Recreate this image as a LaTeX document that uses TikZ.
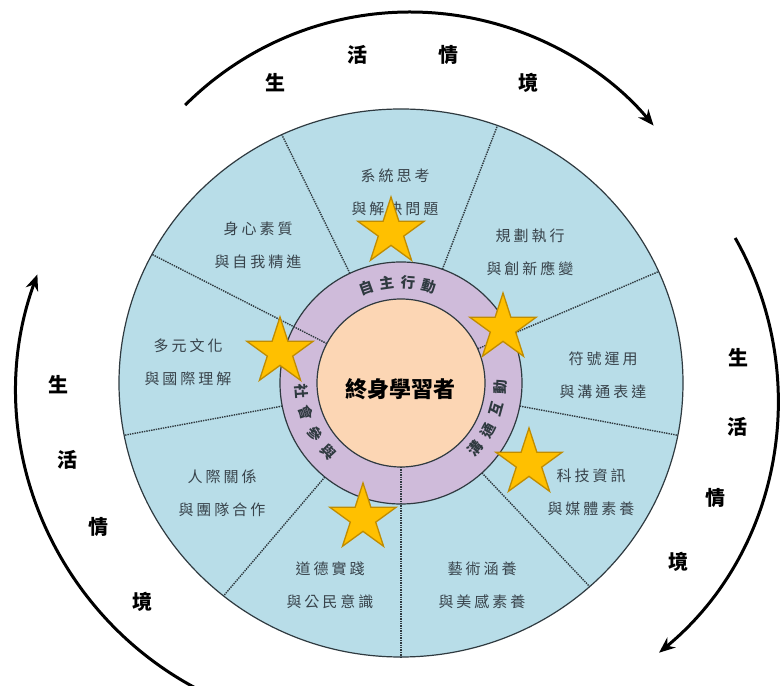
\documentclass[tikz,border=0pt]{standalone}
\usepackage{fontspec}
\setmainfont{Noto Sans CJK TC}
\newfontfamily\seclbl[LetterSpace=20]{Noto Sans CJK TC}
\usepackage{tikz}
\usetikzlibrary{shapes.geometric, arrows.meta, calc}
\definecolor{ccBlue}{HTML}{B8DDE8}
\definecolor{ccPurple}{HTML}{CFBBDA}
\definecolor{ccPeach}{HTML}{FCD6B4}
\definecolor{ccGold}{HTML}{FFC000}
\definecolor{ccGoldDark}{HTML}{C08C00}
\definecolor{ccLine}{HTML}{2F3A40}
\definecolor{ccText}{HTML}{38434B}
\tikzset{
  seclabel/.style={align=center, text=ccText, font=\fontsize{15}{33}\selectfont\seclbl},
  ringchar/.style={text=ccLine, inner sep=0pt, font=\fontsize{14.5}{14.5}\selectfont\bfseries},
  ctxchar/.style={text=black, font=\fontsize{20}{20}\selectfont\bfseries},
  goldstar/.style={star, star points=5, star point ratio=2.618, minimum size=70pt,
                   inner sep=0pt, fill=ccGold, draw=ccGoldDark, line width=1.3pt},
  divider/.style={densely dotted, line width=1.4pt, color=ccLine},
  ctxarrow/.style={-{Stealth[length=16pt, width=13pt]}, line width=3pt},
}

\begin{document}
\begin{tikzpicture}[x=1pt, y=1pt]
  \useasboundingbox[fill=white] (0,0) rectangle (780,686);
  \coordinate (C) at (401,303);
  % rings
  \draw[ccLine, line width=1.2pt, fill=ccBlue] (C) ellipse[x radius=282, y radius=274];
  \draw[ccLine, line width=1.2pt, fill=ccPurple] (C) circle[radius=121];
  \foreach \a in {115,70,-11,-48,-129,191}
    \draw[divider] ([shift={(\a:121)}]C) -- ([shift={(\a:282 and 274)}]C);
  \foreach \a in {152,24,-90}
    \draw[divider] ([shift={(\a:84)}]C) -- ([shift={(\a:282 and 274)}]C);
  \draw[ccLine, line width=1.2pt, fill=ccPeach] (C) circle[radius=84];
  \node[font=\fontsize{22}{22}\selectfont\bfseries] (core) at (400,297) {終身學習者};
  % dimensions
  \foreach \a/\c [count=\i] in {110/自,98/主,86/行,74/動}
    \node[ringchar, rotate=\a-90] (auto\i) at ([shift={(\a:101)}]C) {\c};
  \foreach \a/\c [count=\i] in {-41.5/溝,-28.5/通,-15.5/互,-2.5/動}
    \node[ringchar, rotate=\a+90] (comm\i) at ([shift={(\a:99)}]C) {\c};
  \foreach \a/\c [count=\i] in {184.5/社,197.5/會,210.5/參,223.5/與}
    \node[ringchar, rotate=\a+90] (soc\i) at ([shift={(\a:100)}]C) {\c};
  % items
  \node[seclabel] (sys) at (395,494) {系統思考\\與解決問題};
  \node[seclabel] (plan) at (530,434) {規劃執行\\與創新應變};
  \node[seclabel] (sym) at (603,311) {符號運用\\與溝通表達};
  \node[seclabel] (tech) at (591,194) {科技資訊\\與媒體素養};
  \node[seclabel] (art) at (482,101) {藝術涵養\\與美感素養};
  \node[seclabel] (moral) at (330,101) {道德實踐\\與公民意識};
  \node[seclabel] (team) at (222,193) {人際關係\\與團隊合作};
  \node[seclabel] (multi) at (188,324) {多元文化\\與國際理解};
  \node[seclabel] (body) at (258,441) {身心素質\\與自我精進};
  % stars
  \node[goldstar] (st1) at (391,454) {};
  \node[goldstar] (st2) at (503,358) {};
  \node[goldstar] (st3) at (529,223) {};
  \node[goldstar] (st4) at (363,168) {};
  \node[goldstar] (st5) at (280,334) {};
  % context arrows
  \coordinate (Ttop) at (410,356);
  \coordinate (Tright) at (450,286);
  \coordinate (Tleft) at (355,296);
  \draw[ctxarrow] ([shift={(135:318)}]Ttop) arc[start angle=135, end angle=40, radius=318];
  \draw[ctxarrow] ([shift={(29.6:328)}]Tright) arc[start angle=29.6, end angle=-50.4, radius=328];
  \draw[ctxarrow] ([shift={(242:338)}]Tleft) arc[start angle=242, end angle=160, radius=338];
  \foreach \p/\c [count=\i] in {{(275,603)}/生,{(357,631)}/活,{(448,631)}/情,{(528,603)}/境}
    \node[ctxchar] (top\i) at \p {\c};
  \foreach \p/\c [count=\i] in {{(738,328)}/生,{(737,259)}/活,{(715,188)}/情,{(678,124)}/境}
    \node[ctxchar] (right\i) at \p {\c};
  \foreach \p/\c [count=\i] in {{(58,301)}/生,{(67,226)}/活,{(98,159)}/情,{(142,84)}/境}
    \node[ctxchar] (left\i) at \p {\c};
\end{tikzpicture}
\end{document}
